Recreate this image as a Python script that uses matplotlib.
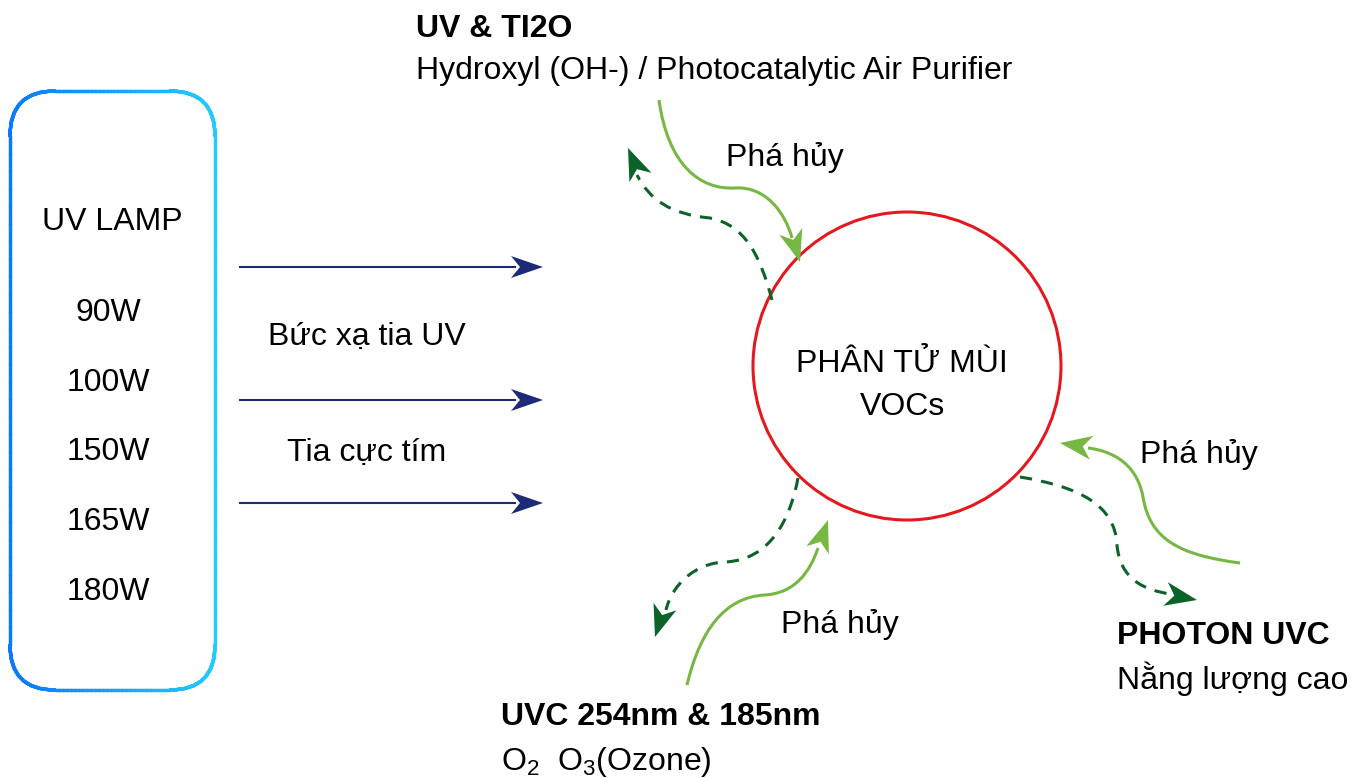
import numpy as np
import matplotlib
matplotlib.use('Agg')
import matplotlib.pyplot as plt
from matplotlib.patches import Circle, FancyBboxPatch, PathPatch, Polygon
from matplotlib.path import Path
from matplotlib.collections import LineCollection

plt.rcParams['font.family'] = ['Liberation Sans', 'DejaVu Sans']
plt.rcParams['mathtext.fontset'] = 'custom'
plt.rcParams['mathtext.rm'] = 'Liberation Sans'

# Diagram content (pixel layout of the original drawing)
lamp_title = 'UV LAMP'
lamp_powers = ['90W', '100W', '150W', '165W', '180W']
lamp_power_y = [313, 383, 452, 522, 592]
ray_y = [267, 400, 503]
ray_labels = ['Bức xạ tia UV', 'Tia cực tím']
ray_label_y = [337, 453]
center_label = ['PHÂN TỬ MÙI', 'VOCs']

# curves: (start, ctrl, ctrl, mid, ctrl, ctrl, end), tip of the arrow head
top_in = [(659, 100), (668, 165), (700, 190), (735, 188), (765, 186), (785, 212), (792, 238)]
top_in_tip = (800, 262)
top_out = [(772, 300), (760, 255), (745, 225), (710, 218), (670, 214), (650, 200), (637, 175)]
top_out_tip = (628, 148)
low_in = [(687, 685), (700, 630), (725, 597), (765, 595), (795, 593), (810, 572), (818, 548)]
low_in_tip = (828, 520)
low_out = [(798, 478), (790, 520), (770, 560), (725, 562), (695, 563), (672, 585), (666, 610)]
low_out_tip = (655, 637)
right_in = [(1240, 563), (1180, 555), (1150, 540), (1143, 497), (1138, 470), (1120, 452), (1088, 448)]
right_in_tip = (1060, 443)
right_out = [(1020, 477), (1080, 487), (1115, 505), (1117, 545), (1120, 580), (1145, 590), (1170, 594)]
right_out_tip = (1197, 600)

navy = '#1d2a76'
light_green = '#76b843'
dark_green = '#0b6329'
red = '#e4191f'

fig = plt.figure(figsize=(13.67, 7.78), dpi=100)
ax = fig.add_axes([0, 0, 1, 1])
ax.set_xlim(0, 1367)
ax.set_ylim(778, 0)
ax.axis('off')

FS = 23


def head(tip, base, color, length=32, width=24):
    tip = np.array(tip, float)
    d = tip - np.array(base, float)
    d /= np.hypot(*d)
    n = np.array([-d[1], d[0]])
    back = tip - d * length
    notch = tip - d * length * 0.72
    pts = [tip, back + n * width / 2, notch, back - n * width / 2]
    ax.add_patch(Polygon(pts, closed=True, color=color, lw=0, zorder=4))


def curve(pts, tip, color, dashed=False):
    codes = [Path.MOVETO] + [Path.CURVE4] * 6
    ax.add_patch(PathPatch(Path(pts, codes), fill=False, edgecolor=color, lw=2.2,
                           linestyle=(0, (4, 3)) if dashed else '-', zorder=3))
    head(tip, pts[-2], color)


# lamp box with blue gradient border
box = FancyBboxPatch((10, 91), 205, 599, boxstyle='round,pad=0,rounding_size=45')
poly = box.get_path().to_polygons(closed_only=False)[0]
fine = np.concatenate([np.linspace(poly[i], poly[i + 1], 30) for i in range(len(poly) - 1)])
segs = np.stack([fine[:-1], fine[1:]], axis=1)
cmap = matplotlib.colors.LinearSegmentedColormap.from_list('b', ['#0a78ff', '#22ccff'])
lc = LineCollection(segs, cmap=cmap, linewidths=2.5, capstyle='round', joinstyle='round')
lc.set_array((segs[:, 0, 0] - 10) / 205)
ax.add_collection(lc)

ax.text(112, 222, lamp_title, fontsize=FS, ha='center', va='center')
for lbl, y in zip(lamp_powers, lamp_power_y):
    ax.text(108, y, lbl, fontsize=FS, ha='center', va='center')

for y in ray_y:
    ax.plot([240, 515], [y, y], color=navy, lw=1.5)
    head((543, y), (240, y), navy, length=32, width=22)
for lbl, y in zip(ray_labels, ray_label_y):
    ax.text(367, y, lbl, fontsize=FS, ha='center', va='center')

ax.add_patch(Circle((907, 366), 154, fill=False, edgecolor=red, lw=2.2, zorder=2))
ax.text(902, 364, center_label[0], fontsize=FS, ha='center', va='center')
ax.text(902, 407, center_label[1], fontsize=FS, ha='center', va='center')

curve(top_in, top_in_tip, light_green)
curve(top_out, top_out_tip, dark_green, dashed=True)
curve(low_in, low_in_tip, light_green)
curve(low_out, low_out_tip, dark_green, dashed=True)
curve(right_in, right_in_tip, light_green)
curve(right_out, right_out_tip, dark_green, dashed=True)

ax.text(785, 157, 'Phá hủy', fontsize=FS, ha='center', va='center')
ax.text(840, 624, 'Phá hủy', fontsize=FS, ha='center', va='center')
ax.text(1199, 454, 'Phá hủy', fontsize=FS, ha='center', va='center')

ax.text(416, 29, 'UV & TI2O', fontsize=FS, fontweight='bold', ha='left', va='center')
ax.text(416, 71, 'Hydroxyl (OH-) / Photocatalytic Air Purifier', fontsize=FS, ha='left', va='center')
ax.text(1117, 636, 'PHOTON UVC', fontsize=FS, fontweight='bold', ha='left', va='center')
ax.text(1117, 679, 'Nằng lượng cao', fontsize=FS, ha='left', va='center')
ax.text(501, 717, 'UVC 254nm & 185nm', fontsize=FS, fontweight='bold', ha='left', va='center')
ax.text(501, 762, r'O$_2$  O$_3$(Ozone)', fontsize=FS, ha='left', va='center')

fig.savefig('out.png', dpi=100)
